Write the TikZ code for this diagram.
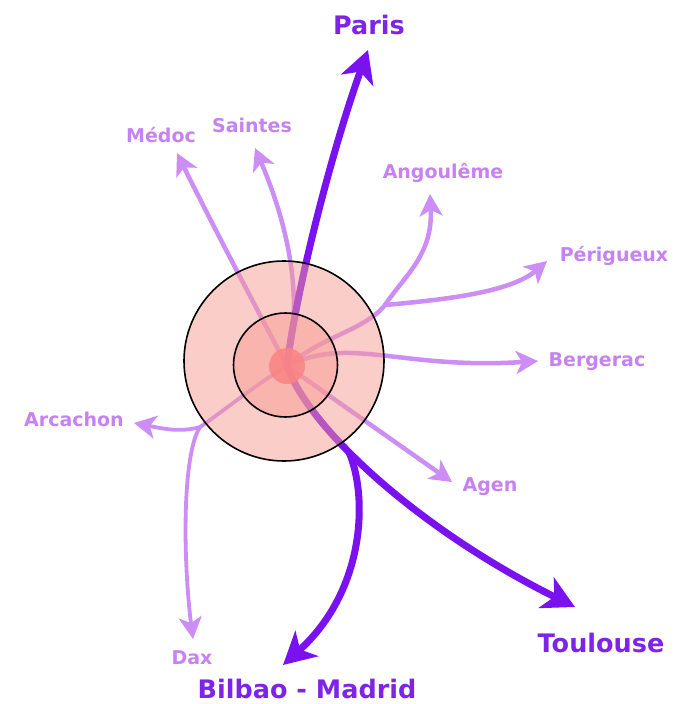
\documentclass[tikz,border=0pt]{standalone}
\usepackage{fontspec}
\setmainfont{DejaVu Sans}
\usetikzlibrary{arrows.meta}

\definecolor{routeDark}{RGB}{122,18,240}
\definecolor{routeLight}{RGB}{204,142,245}
\definecolor{labelDark}{RGB}{126,36,232}
\definecolor{labelLight}{RGB}{198,130,242}
\definecolor{ringPink}{RGB}{247,155,148}
\definecolor{hubPink}{RGB}{250,132,132}

\begin{document}
\begin{tikzpicture}[x=1pt, y=-1pt,
    major/.style={-{Stealth[length=32pt, width=34pt, inset=9pt]}, draw=routeDark, line width=7pt},
    minor/.style={-{Stealth[length=22pt, width=23pt, inset=6pt]}, draw=routeLight, line width=4.5pt},
    trunk/.style={draw=routeLight, line width=4.5pt, line cap=round},
    bigcity/.style={font=\bfseries\fontsize{25.5}{30}\selectfont, text=labelDark, anchor=base, inner sep=0pt},
    smallcity/.style={font=\bfseries\fontsize{19}{23}\selectfont, text=labelLight, anchor=base, inner sep=0pt},
    ring/.style={circle, draw=black, line width=1.6pt, fill=ringPink, fill opacity=0.5, inner sep=0pt},
    hub/.style={circle, fill=hubPink, fill opacity=0.85, minimum size=36pt, inner sep=0pt}
]
\useasboundingbox (0,0) rectangle (686,704);

% City labels
\node[bigcity] (paris) at (369, 34) {Paris};
\node[bigcity] (toulouse) at (601, 652) {Toulouse};
\node[bigcity] (bilbao) at (307, 698) {Bilbao - Madrid};
\node[smallcity] (medoc) at (161, 142) {Médoc};
\node[smallcity] (saintes) at (252, 132) {Saintes};
\node[smallcity] (angouleme) at (443, 178) {Angoulême};
\node[smallcity] (perigueux) at (614, 261) {Périgueux};
\node[smallcity] (bergerac) at (597, 366) {Bergerac};
\node[smallcity] (agen) at (490, 491) {Agen};
\node[smallcity] (dax) at (192, 664) {Dax};
\node[smallcity] (arcachon) at (74, 426) {Arcachon};

% Centre, branch points and arrow ends
\coordinate (centre) at (287, 366);
\coordinate (east) at (385, 305);
\coordinate (west) at (200, 427);
\coordinate (parisTip) at (368, 50);
\coordinate (toulouseTip) at (575, 607);
\coordinate (bilbaoTip) at (283, 665);
\coordinate (medocTip) at (177, 153);
\coordinate (saintesTip) at (255, 148);
\coordinate (angoulemeTip) at (430, 194);
\coordinate (perigueuxTip) at (547, 261);
\coordinate (bergeracTip) at (538, 361);
\coordinate (agenTip) at (452, 482);
\coordinate (daxTip) at (193, 639);
\coordinate (arcachonTip) at (134, 423);

% Light routes
\draw[minor] (centre) .. controls (252, 300) and (210, 220) .. (medocTip);
\draw[minor] (centre) .. controls (303, 300) and (290, 230) .. (saintesTip);
\draw[trunk] (centre) .. controls (325, 335) and (365, 330) .. (east);
\draw[minor] (east) .. controls (405, 275) and (433, 255) .. (angoulemeTip);
\draw[minor] (east) .. controls (440, 300) and (510, 293) .. (perigueuxTip);
\draw[minor] (centre) .. controls (350, 335) and (400, 370) .. (bergeracTip);
\draw[minor] (centre) -- (agenTip);
\draw[trunk, line width=3.8pt] (centre) .. controls (255, 385) and (225, 410) .. (west);
\draw[minor, line width=3.8pt] (west) .. controls (180, 433) and (160, 428) .. (arcachonTip);
\draw[minor, line width=3.8pt] (west) .. controls (182, 455) and (183, 560) .. (daxTip);

% Heavy routes
\draw[major] (centre) .. controls (296, 290) and (332, 150) .. (parisTip);
\draw[major] (centre) .. controls (310, 430) and (420, 530) .. coordinate[pos=0.38] (fork) (toulouseTip);
\draw[major] (fork) .. controls (368, 495) and (366, 590) .. (bilbaoTip);

% Rings over the centre
\node[ring, minimum size=200pt] (outer) at (284, 361) {};
\node[ring, minimum size=104pt] (inner) at (285.5, 365) {};
\node[hub] (core) at (centre) {};

\end{tikzpicture}
\end{document}
